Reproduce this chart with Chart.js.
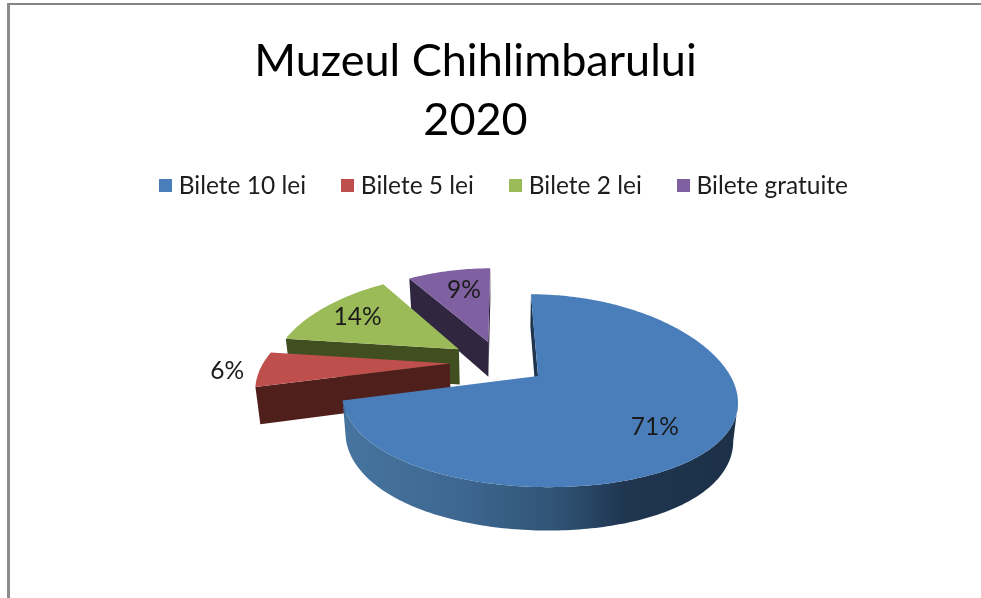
<!DOCTYPE html>
<html>
<head>
<meta charset="utf-8">
<script src="https://cdn.jsdelivr.net/npm/chart.js@4"></script>
<style>
html,body{margin:0;padding:0;background:#fff;overflow:hidden}
#frame{position:absolute;left:7px;top:3px;width:974px;height:595px;box-sizing:border-box;border-top:2px solid #858585;border-left:3px solid #8c8c8c}
canvas{position:absolute;left:0;top:0}
</style>
</head>
<body>
<div id="frame"></div>
<canvas id="c" width="981" height="598"></canvas>
<script>
const categories = ['Bilete 10 lei', 'Bilete 5 lei', 'Bilete 2 lei', 'Bilete gratuite'];
const ticketShares = [71, 6, 14, 9];
const titleLines = ['Muzeul Chihlimbarului', '2020'];
const faceColors = ['#4a7ebb', '#be4f4c', '#9bbb59', '#7f60a1'];
const wallColors = ['#1f3550', '#4f1f1c', '#404e20', '#30263f'];

// Perspective view of the pie's plane (unit = pie radius)
const VIEW = {x0: 500, y0: 362, ax: 186, ay: 90, px: 0.22, py: 0.148, depth: 36, shrink: 0.98};
const EXPLODE = [0.25, 0.27, 0.27, 0.24];
// Label anchors in the slice's plane, relative to its apex
const LABEL_ANCHORS = [[0.515, 0.5], [-1.165, 0.084], [-0.63, -0.40], [-0.165, -0.677]];

function project(u, v) {
  return {x: VIEW.x0 + VIEW.ax * u / (1 - VIEW.px * v), y: VIEW.y0 + VIEW.ay * v / (1 - VIEW.py * v)};
}
function projectBottom(u, v) {
  const x = VIEW.ax * u / (1 - VIEW.px * v) * VIEW.shrink;
  return {x: VIEW.x0 + x, y: VIEW.y0 + (VIEW.ay * v + VIEW.depth) / (1 - VIEW.py * v)};
}
function tracePoly(ctx, pts) {
  ctx.beginPath();
  pts.forEach((q, i) => i ? ctx.lineTo(q.x, q.y) : ctx.moveTo(q.x, q.y));
  ctx.closePath();
}
function sliceOutline(arc, i) {
  const mid = (arc.startAngle + arc.endAngle) / 2;
  const ox = Math.cos(mid) * EXPLODE[i], oy = Math.sin(mid) * EXPLODE[i];
  const pts = [[ox, oy]];
  const steps = Math.max(4, Math.ceil((arc.endAngle - arc.startAngle) / (Math.PI / 180)));
  for (let k = 0; k <= steps; k++) {
    const a = arc.startAngle + (arc.endAngle - arc.startAngle) * k / steps;
    pts.push([ox + Math.cos(a), oy + Math.sin(a)]);
  }
  return {pts, ox, oy};
}

const pie3d = {
  id: 'pie3d',
  beforeDraw(chart) {
    chart.titleBlock.left = -15; chart.titleBlock.right = 981 - 15;
    chart.legend.left = 15.5; chart.legend.right = 981 + 15.5;
    chart.legend.top = chart.titleBlock.bottom - 16.5;
  },
  beforeDatasetsDraw(chart) {
    const ctx = chart.ctx;
    const arcs = chart.getDatasetMeta(0).data;
    ctx.save();
    [3, 2, 1, 0].forEach(i => {
      const {pts} = sliceOutline(arcs[i], i);
      const top = pts.map(q => project(q[0], q[1]));
      const bot = pts.map(q => projectBottom(q[0], q[1]));
      // walls: edges that run right-to-left on a clockwise outline face the viewer
      const n = pts.length;
      let strip = null;
      const flush = () => {
        if (!strip) return;
        const poly = strip.map(k => top[k]).concat(strip.slice().reverse().map(k => bot[k]));
        let fill = wallColors[i];
        if (i === 0 && strip.length > 2) {
          const g = ctx.createLinearGradient(345, 0, 735, 0);
          g.addColorStop(0, '#46749f');
          g.addColorStop(0.3, '#3e6790');
          g.addColorStop(0.55, '#2f5274');
          g.addColorStop(0.72, '#1f3550');
          g.addColorStop(1, '#1c3148');
          fill = g;
        }
        tracePoly(ctx, poly);
        ctx.fillStyle = fill; ctx.fill();
        strip = null;
      };
      for (let k = 0; k < n; k++) {
        const a = k, b = (k + 1) % n;
        if (top[b].x < top[a].x) {
          if (strip) strip.push(b); else strip = [a, b];
        } else flush();
      }
      flush();
      tracePoly(ctx, top);
      ctx.fillStyle = faceColors[i]; ctx.fill();
    });
    // percentage labels
    const total = ticketShares.reduce((s, x) => s + x, 0);
    ctx.font = '24.5px Lato';
    ctx.fillStyle = '#1a1a1a';
    ctx.textAlign = 'center';
    ctx.textBaseline = 'middle';
    arcs.forEach((arc, i) => {
      const {ox, oy} = sliceOutline(arc, i);
      const q = project(ox + LABEL_ANCHORS[i][0], oy + LABEL_ANCHORS[i][1]);
      ctx.fillText(Math.round(ticketShares[i] / total * 100) + '%', q.x, q.y);
    });
    ctx.restore();
    return false;
  }
};

function swatch(color) {
  const s = document.createElement('canvas');
  s.width = 13; s.height = 13;
  const g = s.getContext('2d');
  g.fillStyle = color; g.fillRect(0, 0, 13, 13);
  return s;
}

new Chart(document.getElementById('c'), {
  type: 'pie',
  data: {
    labels: categories,
    datasets: [{data: ticketShares, backgroundColor: faceColors, borderWidth: 0}]
  },
  plugins: [pie3d],
  options: {
    responsive: false,
    animation: false,
    plugins: {
      tooltip: {enabled: false},
      title: {
        display: true,
        text: titleLines,
        color: '#000',
        font: {family: 'Lato', size: 45, weight: 'normal', lineHeight: 1.31},
        padding: {top: 32, bottom: 0}
      },
      legend: {
        display: true,
        position: 'top',
        labels: {
          color: '#1e1e1e',
          font: {family: 'Lato', size: 24.5},
          usePointStyle: true,
          pointStyleWidth: 2.5,
          boxHeight: 13,
          padding: 40,
          generateLabels(chart) {
            return categories.map((t, i) => ({
              text: t, fillStyle: faceColors[i], strokeStyle: faceColors[i], lineWidth: 0,
              pointStyle: swatch(faceColors[i]), index: i, hidden: false, fontColor: '#1e1e1e'
            }));
          }
        }
      }
    }
  }
});
</script>
</body>
</html>
